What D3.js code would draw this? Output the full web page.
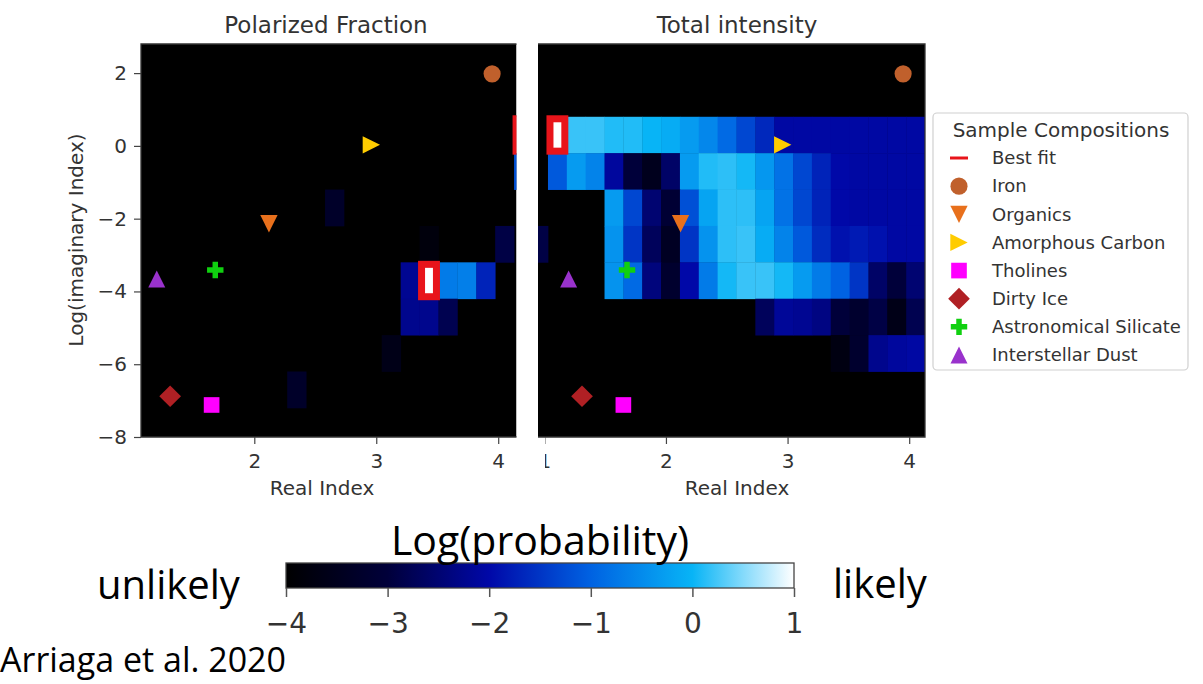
<!DOCTYPE html>
<html>
<head>
<meta charset="utf-8">
<script src="https://cdn.jsdelivr.net/npm/d3@7"></script>
<style>
body { margin: 0; background: #fff; }
svg text { font-family: "DejaVu Sans", sans-serif; }
.ppt { font-family: "Open Sans", sans-serif; fill: #000; }
</style>
</head>
<body>
<svg id="fig" width="1203" height="684"></svg>
<script>
// bin edges of the probability maps
var realEdges = [0.875, 1.03, 1.185, 1.34, 1.495, 1.65, 1.805, 1.96, 2.115, 2.27, 2.425,
                 2.58, 2.735, 2.89, 3.045, 3.2, 3.355, 3.51, 3.665, 3.82, 3.975, 4.13, 4.285];
var imagEdges = [2.8, 1.8, 0.8, -0.2, -1.2, -2.2, -3.2, -4.2, -5.2, -6.2, -7.2, -8.2];

// log(probability), rows top -> bottom, 22 real-index bins each
var polarized = [
  [-4,-4,-4,-4,-4,-4,-4,-4,-4,-4,-4,-4,-4,-4,-4,-4,-4,-4,-4,-4,-4,-4],
  [-4,-4,-4,-4,-4,-4,-4,-4,-4,-4,-4,-4,-4,-4,-4,-4,-4,-4,-4,-4,-4,-4],
  [-4,-4,-4,-4,-4,-4,-4,-4,-4,-4,-4,-4,-4,-4,-4,-4,-4,-4,-4,-4,-4, 1],
  [-4,-4,-4,-4,-4,-4,-4,-4,-4,-4,-4,-4,-4,-4,-4,-4,-4,-4,-4,-4,-4,-1.2],
  [-4,-4,-4,-4,-4,-4,-4,-4,-4,-4,-4,-3.3,-4,-4,-4,-4,-4,-4,-4,-4,-4,-4],
  [-4,-4,-4,-4,-4,-4,-4,-4,-4,-4,-4,-4,-4,-4,-4,-4,-3.8,-4,-4,-4,-2.9,-4],
  [-4,-4,-4,-4,-4,-4,-4,-4,-4,-4,-4,-4,-4,-4,-4,-2.2,1,-0.7,-0.65,-1.7,-4,-4],
  [-4,-4,-4,-4,-4,-4,-4,-4,-4,-4,-4,-4,-4,-4,-4,-2.25,-2.25,-2.8,-4,-4,-4,-4],
  [-4,-4,-4,-4,-4,-4,-4,-4,-4,-4,-4,-4,-4,-4,-3.6,-4,-4,-4,-4,-4,-4,-4],
  [-4,-4,-4,-4,-4,-4,-4,-4,-4,-3.3,-4,-4,-4,-4,-4,-4,-4,-4,-4,-4,-4,-4],
  [-4,-4,-4,-4,-4,-4,-4,-4,-4,-4,-4,-4,-4,-4,-4,-4,-4,-4,-4,-4,-4,-4]
];

var total = [
  [-4,-4,-4,-4,-4,-4,-4,-4,-4,-4,-4,-4,-4,-4,-4,-4,-4,-4,-4,-4,-4,-4],
  [-4,-4,-4,-4,-4,-4,-4,-4,-4,-4,-4,-4,-4,-4,-4,-4,-4,-4,-4,-4,-4,-4],
  [-4, 1, 0.2, 0.2, 0.1, 0.1, 0, -0.1, -0.3, -0.55, -0.9, -1.3, -1.65, -2.05, -2.05, -2.05, -2.05, -2.05, -2.05, -2.05, -2.05, -4],
  [-4, -1.1, -0.3, -0.6, -2.1, -3.0, -3.5, -2.6, -0.3, 0.1, 0.15, 0.05, -0.35, -0.8, -1.3, -1.7, -2.0, -2.05, -2.05, -2.05, -2.05, -4],
  [-4, -4, -4, -4, -0.3, -1.3, -2.5, -3.1, -1.2, -0.2, 0.15, 0.15, -0.2, -0.8, -1.3, -1.7, -2.0, -2.05, -2.05, -2.05, -2.05, -4],
  [-2.9, -4, -4, -4, -0.4, -1.5, -2.7, -3.4, -1.5, -0.4, 0.15, 0.2, -0.1, -0.6, -1.1, -1.6, -1.9, -1.8, -1.9, -2.05, -2.05, -4],
  [-4, -4, -4, -4, -0.4, -0.9, -2.4, -3.2, -2.0, -0.7, 0.05, 0.2, 0.2, 0.05, -0.3, -0.7, -1.0, -1.5, -2.6, -3.0, -2.5, -4],
  [-4,-4,-4,-4,-4,-4,-4,-4,-4,-4,-4,-4, -2.7, -2.15, -2.2, -2.35, -3.0, -3.2, -2.9, -3.6, -2.8, -4],
  [-4,-4,-4,-4,-4,-4,-4,-4,-4,-4,-4,-4,-4,-4,-4,-4, -3.7, -3.2, -2.25, -2.1, -2.05, -4],
  [-4,-4,-4,-4,-4,-4,-4,-4,-4,-4,-4,-4,-4,-4,-4,-4,-4,-4,-4,-4,-4,-4],
  [-4,-4,-4,-4,-4,-4,-4,-4,-4,-4,-4,-4,-4,-4,-4,-4,-4,-4,-4,-4,-4,-4]
];

// best fit cells [real, log imaginary]
var bestPolarized = [[3.43, -3.7], [4.2, 0.3]];
var bestTotal = [[1.1, 0.3]];

// sample compositions
var sampleNames = ["Iron", "Organics", "Amorphous Carbon", "Tholines", "Dirty Ice", "Astronomical Silicate", "Interstellar Dust"];
var sampleReal = [3.95, 2.12, 2.96, 1.65, 1.31, 1.68, 1.2];
var sampleImag = [1.98, -2.14, 0.03, -7.12, -6.88, -3.41, -3.66];

var realTicks = [2, 3, 4];
var realTicksCut = [1, 2, 3, 4];
var imagTicks = [2, 0, -2, -4, -6, -8];
var cbarTicks = [-4, -3, -2, -1, 0, 1];

var svg = d3.select("#fig");
var defs = svg.append("defs");

var cmap = d3.scaleLinear()
    .domain([-4, -3, -2, -1, 0, 1])
    .range(["#000000", "#00003a", "#0008a8", "#0062e2", "#08b4f6", "#ffffff"])
    .clamp(true);

var triUp = {
  draw: function(ctx, size) {
    var r = Math.sqrt(size) / 2;
    ctx.moveTo(0, -r); ctx.lineTo(r, r); ctx.lineTo(-r, r); ctx.closePath();
  }
};

var markerStyle = {
  "Iron":                  {type: d3.symbolCircle, size: 230, rot: 0,   color: "#c0602c"},
  "Organics":              {type: triUp,           size: 300, rot: 180, color: "#e8701c"},
  "Amorphous Carbon":      {type: triUp,           size: 300, rot: 90,  color: "#ffcc00"},
  "Tholines":              {type: d3.symbolSquare, size: 245, rot: 0,   color: "#ff00ff"},
  "Dirty Ice":             {type: d3.symbolSquare, size: 235, rot: 45,  color: "#b02024"},
  "Astronomical Silicate": {type: d3.symbolCross,  size: 150, rot: 0,   color: "#10d010"},
  "Interstellar Dust":     {type: triUp,           size: 289, rot: 0,   color: "#9932cc"}
};

var y = d3.scaleLinear().domain([-8, 2.8]).range([437, 44]);

var panels = [
  {id: "pf", title: "Polarized Fraction", titleX: 326, labelX: 322,
   x: d3.scaleLinear().domain([1.071, 4.15]).range([141, 516.5]),
   clip: [141, 516.5], axClip: 141, data: polarized, best: bestPolarized, ticks: realTicks,
   frame: "M516.5,44H141V437H516.5", yAxis: true},
  {id: "ti", title: "Total intensity", titleX: 737, labelX: 737,
   x: d3.scaleLinear().domain([0.948, 4.13]).range([538, 925]),
   clip: [538, 925], axClip: 545, data: total, best: bestTotal, ticks: realTicksCut,
   frame: "M538,44H925V437H538", yAxis: false}
];

panels.forEach(function(p) {
  defs.append("clipPath").attr("id", "clip-" + p.id)
    .append("rect").attr("x", p.clip[0]).attr("y", 44)
    .attr("width", p.clip[1] - p.clip[0]).attr("height", 393);
  defs.append("clipPath").attr("id", "clipax-" + p.id)
    .append("rect").attr("x", p.axClip).attr("y", 0)
    .attr("width", p.clip[1] - p.axClip + 10).attr("height", 520);

  var g = svg.append("g").attr("clip-path", "url(#clip-" + p.id + ")");

  // background and heat map cells
  g.append("rect").attr("x", p.clip[0]).attr("y", 44)
    .attr("width", p.clip[1] - p.clip[0]).attr("height", 393).attr("fill", "#000");

  var cells = [];
  p.data.forEach(function(row, j) {
    row.forEach(function(v, k) { cells.push({j: j, k: k, v: v}); });
  });
  g.selectAll(".cell").data(cells.filter(function(d) { return d.v > -4; }))
    .enter().append("rect")
      .attr("class", "cell")
      .attr("x", function(d) { return p.x(realEdges[d.k]); })
      .attr("y", function(d) { return y(imagEdges[d.j]); })
      .attr("width", function(d) { return p.x(realEdges[d.k + 1]) - p.x(realEdges[d.k]) + 0.4; })
      .attr("height", function(d) { return y(imagEdges[d.j + 1]) - y(imagEdges[d.j]) + 0.4; })
      .attr("fill", function(d) { return cmap(d.v); });

  // best fit boxes
  var negEdges = imagEdges.map(function(e) { return -e; });
  g.selectAll(".best").data(p.best)
    .enter().append("rect")
      .attr("class", "best")
      .attr("x", function(d) { return p.x(realEdges[d3.bisectRight(realEdges, d[0]) - 1]) + 2; })
      .attr("y", function(d) { return y(imagEdges[d3.bisectLeft(negEdges, -d[1]) - 1]) + 2; })
      .attr("width", function(d) {
        var i = d3.bisectRight(realEdges, d[0]) - 1;
        return p.x(realEdges[i + 1]) - p.x(realEdges[i]) - 4; })
      .attr("height", function(d) {
        var i = d3.bisectLeft(negEdges, -d[1]) - 1;
        return y(imagEdges[i + 1]) - y(imagEdges[i]) - 4; })
      .attr("fill", "none")
      .attr("stroke", "#e8141a")
      .attr("stroke-width", 7);

  // sample compositions
  g.selectAll(".sample").data(sampleNames)
    .enter().append("path")
      .attr("class", "sample")
      .attr("d", function(n) { return d3.symbol().type(markerStyle[n].type).size(markerStyle[n].size)(); })
      .attr("transform", function(n, i) {
        return "translate(" + p.x(sampleReal[i]) + "," + y(sampleImag[i]) + ") rotate(" + markerStyle[n].rot + ")"; })
      .attr("fill", function(n) { return markerStyle[n].color; });

  svg.append("path").attr("d", p.frame)
    .attr("fill", "none").attr("stroke", "#333").attr("stroke-width", 1.3);

  // axes
  var ax = svg.append("g")
      .attr("clip-path", "url(#clipax-" + p.id + ")")
      .attr("transform", "translate(0,437)")
      .call(d3.axisBottom(p.x).tickValues(p.ticks).tickSize(7).tickPadding(10).tickFormat(d3.format("d")));
  ax.select(".domain").remove();
  ax.selectAll("line").attr("stroke", "#444").attr("stroke-width", 1.2);
  ax.selectAll("text").attr("fill", "#333").style("font-size", "20px");

  if (p.yAxis) {
    var ay = svg.append("g")
        .attr("transform", "translate(141,0)")
        .call(d3.axisLeft(y).tickValues(imagTicks).tickSize(7).tickPadding(7).tickFormat(d3.format("d")));
    ay.select(".domain").remove();
    ay.selectAll("line").attr("stroke", "#444").attr("stroke-width", 1.2);
    ay.selectAll("text").attr("fill", "#333").style("font-size", "20px");

    svg.append("text")
      .attr("transform", "translate(76,240) rotate(-90)")
      .attr("dy", "0.35em")
      .attr("text-anchor", "middle")
      .attr("fill", "#333")
      .style("font-size", "20px")
      .text("Log(imaginary Index)");
  }

  svg.append("text")
    .attr("x", p.titleX).attr("y", 33)
    .attr("text-anchor", "middle")
    .attr("fill", "#333")
    .style("font-size", "23px")
    .text(p.title);

  svg.append("text")
    .attr("x", p.labelX).attr("y", 495)
    .attr("text-anchor", "middle")
    .attr("fill", "#333")
    .style("font-size", "20px")
    .text("Real Index");
});

// legend
var lg = svg.append("g");
lg.append("rect").attr("x", 933).attr("y", 113).attr("width", 255).attr("height", 257)
  .attr("rx", 4).attr("fill", "#fff").attr("stroke", "#d0d0d0").attr("stroke-width", 1.2);
lg.append("text").attr("x", 1061).attr("y", 137).attr("text-anchor", "middle")
  .attr("fill", "#333").style("font-size", "20px").text("Sample Compositions");

var legendNames = ["Best fit"].concat(sampleNames);
var ly = d3.scalePoint().domain(legendNames).range([158, 355]);

lg.append("line").attr("x1", 950).attr("x2", 968)
  .attr("y1", ly("Best fit")).attr("y2", ly("Best fit"))
  .attr("stroke", "#e8141a").attr("stroke-width", 3);

lg.selectAll(".lmark").data(sampleNames)
  .enter().append("path")
    .attr("class", "lmark")
    .attr("d", function(n) { return d3.symbol().type(markerStyle[n].type).size(markerStyle[n].size)(); })
    .attr("transform", function(n) { return "translate(959," + ly(n) + ") rotate(" + markerStyle[n].rot + ")"; })
    .attr("fill", function(n) { return markerStyle[n].color; });

lg.selectAll(".ltext").data(legendNames)
  .enter().append("text")
    .attr("class", "ltext")
    .attr("x", 992).attr("y", function(n) { return ly(n); })
    .attr("dy", "0.35em")
    .attr("fill", "#333")
    .style("font-size", "18px")
    .text(function(n) { return n; });

// colour bar
var cbx = d3.scaleLinear().domain([-4, 1]).range([286, 794]);
var grad = defs.append("linearGradient").attr("id", "cbar")
    .attr("x1", "0%").attr("x2", "100%").attr("y1", "0%").attr("y2", "0%");
grad.selectAll("stop").data(d3.range(-4, 1.001, 0.25))
  .enter().append("stop")
    .attr("offset", function(d) { return ((d + 4) / 5 * 100) + "%"; })
    .attr("stop-color", function(d) { return cmap(d); });

svg.append("rect").attr("x", 286).attr("y", 563).attr("width", 508).attr("height", 25)
  .attr("fill", "url(#cbar)").attr("stroke", "#444").attr("stroke-width", 1.3);

var cax = svg.append("g")
    .attr("transform", "translate(0,588)")
    .call(d3.axisBottom(cbx).tickValues(cbarTicks).tickSize(9).tickPadding(16).tickFormat(d3.format("d")));
cax.select(".domain").remove();
cax.selectAll("line").attr("stroke", "#555").attr("stroke-width", 1.5);
cax.selectAll("text").attr("fill", "#333").style("font-size", "28px");

svg.append("text").attr("class", "ppt").attr("x", 540).attr("y", 555)
  .attr("text-anchor", "middle").style("font-size", "41px").text("Log(probability)");
svg.append("text").attr("class", "ppt").attr("x", 97).attr("y", 599)
  .style("font-size", "40px").text("unlikely");
svg.append("text").attr("class", "ppt").attr("x", 833).attr("y", 598)
  .style("font-size", "40px").text("likely");
svg.append("text").attr("class", "ppt").attr("x", 0).attr("y", 672)
  .style("font-size", "34px").text("Arriaga et al. 2020");
</script>
</body>
</html>
